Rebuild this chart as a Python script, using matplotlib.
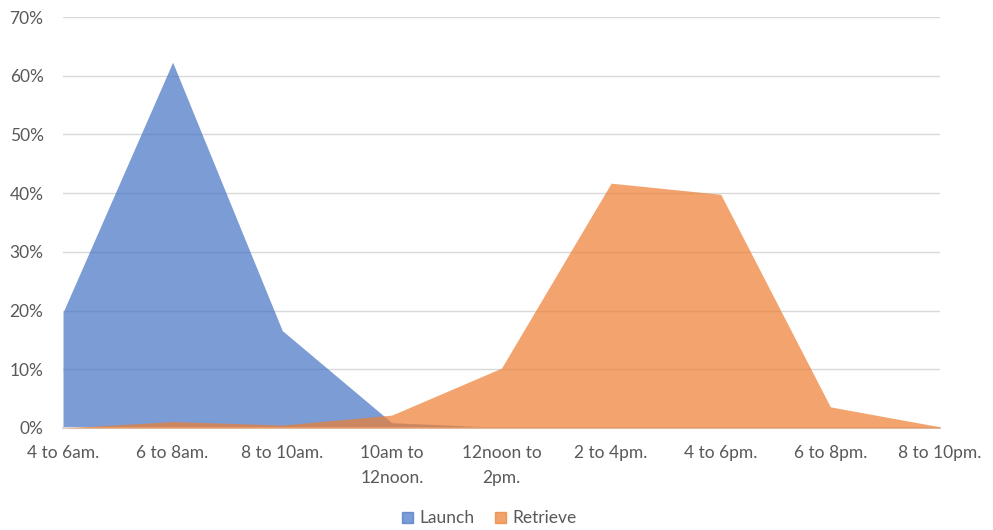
import matplotlib.pyplot as plt
from matplotlib.patches import Patch
from matplotlib.ticker import PercentFormatter

categories = ["4 to 6am.", "6 to 8am.", "8 to 10am.", "10am to\n12noon.", "12noon to\n2pm.",
              "2 to 4pm.", "4 to 6pm.", "6 to 8pm.", "8 to 10pm."]
launch = [19.7, 62.3, 16.6, 0.9, 0.1, 0.0, 0.0, 0.0, 0.0]
retrieve = [0.0, 1.1, 0.5, 2.2, 10.2, 41.7, 39.8, 3.6, 0.2]

blue = "#4472C4"
orange = "#ED7D31"
grey = "#595959"

plt.rcParams["font.family"] = ["Lato", "DejaVu Sans"]

fig = plt.figure(figsize=(9.93, 5.30), dpi=100)
ax = fig.add_axes([63 / 993, 1 - 428 / 530, (940 - 63) / 993, (428 - 17) / 530])

x = list(range(len(categories)))
ax.fill_between(x, 0, launch, color=blue, alpha=0.7, linewidth=0, zorder=2)
ax.fill_between(x, 0, retrieve, color=orange, alpha=0.7, linewidth=0, zorder=3)

ax.set_xlim(0, len(categories) - 1)
ax.set_ylim(0, 70)
ax.set_yticks(range(0, 71, 10))
ax.yaxis.set_major_formatter(PercentFormatter(decimals=0))
ax.set_xticks(x)
ax.set_xticklabels(categories, linespacing=1.75)

ax.grid(axis="y", color="#D9D9D9", linewidth=1, zorder=0)
ax.set_axisbelow(True)
for side in ["top", "right", "left"]:
    ax.spines[side].set_visible(False)
ax.spines["bottom"].set_color("#D9D9D9")
ax.spines["bottom"].set_linewidth(1.5)
ax.tick_params(length=0, labelsize=12.5, labelcolor=grey)
ax.tick_params(axis="x", pad=12)
ax.tick_params(axis="y", pad=14)

handles = [Patch(color=blue, alpha=0.7, label="Launch"),
           Patch(color=orange, alpha=0.7, label="Retrieve")]
fig.legend(handles=handles, loc="center", bbox_to_anchor=(0.493, 0.022), ncol=2,
           frameon=False, fontsize=12.5, labelcolor=grey, handlelength=0.6,
           handleheight=0.6, handletextpad=0.4, columnspacing=1.2)

fig.savefig("out.png", dpi=100)
